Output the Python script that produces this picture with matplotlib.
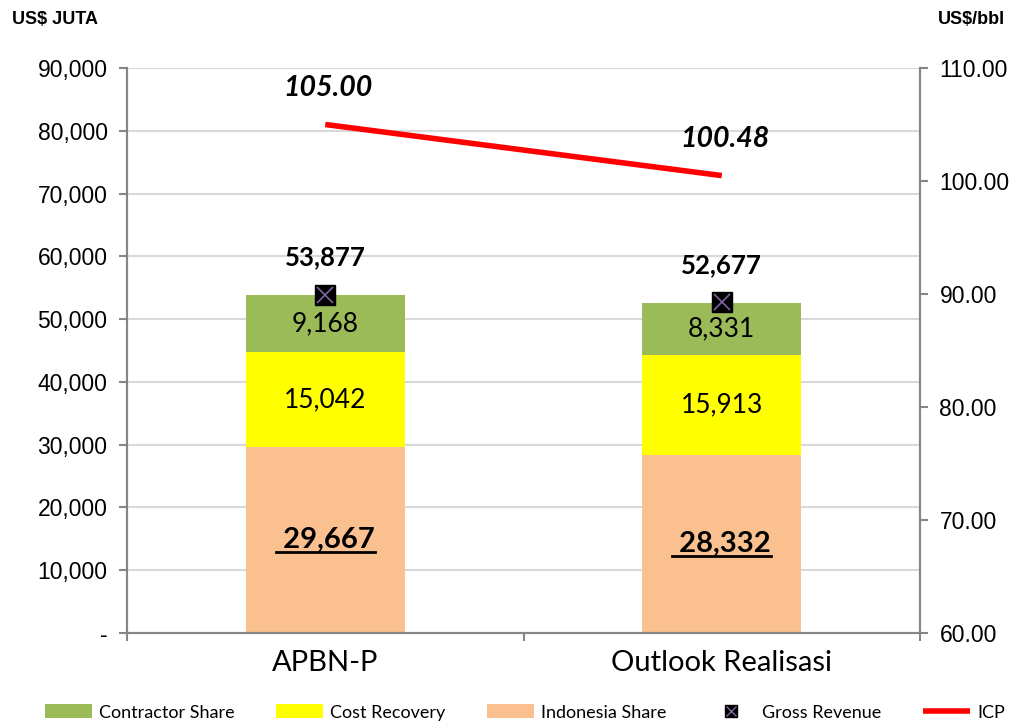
import matplotlib
matplotlib.use('Agg')
import matplotlib.pyplot as plt
from matplotlib.lines import Line2D
from matplotlib.legend_handler import HandlerTuple
import numpy as np

# %% data
categories = ['APBN-P', 'Outlook Realisasi']
indonesia_share = [29667, 28332]
cost_recovery = [15042, 15913]
contractor_share = [9168, 8331]
gross_revenue = [53877, 52677]
icp = [105.00, 100.48]

c_green = '#9BBB59'
c_yellow = '#FFFF00'
c_peach = '#FAC090'
c_red = '#FF0000'
c_spine = '#868686'

plt.rcParams['font.family'] = ['Liberation Sans', 'DejaVu Sans']

fig = plt.figure(figsize=(10.19, 7.21), dpi=100)
ax = fig.add_axes([127 / 1019, 1 - 633 / 721, 793 / 1019, 565 / 721])
ax2 = ax.twinx()

x = np.arange(len(categories))
w = 0.4
b1 = ax.bar(x, indonesia_share, w, color=c_peach, zorder=2, label='Indonesia Share')
b2 = ax.bar(x, cost_recovery, w, bottom=indonesia_share, color=c_yellow, zorder=2, label='Cost Recovery')
bottom3 = np.array(indonesia_share) + np.array(cost_recovery)
b3 = ax.bar(x, contractor_share, w, bottom=bottom3, color=c_green, zorder=2, label='Contractor Share')

m1, = ax.plot(x, gross_revenue, ls='none', marker='s', ms=14, mfc='black', mec='black', zorder=4)
m2, = ax.plot(x, gross_revenue, ls='none', marker='x', ms=12, mew=1.2, color='#8064A2', zorder=5)

ln, = ax2.plot(x, icp, color=c_red, lw=4, solid_capstyle='butt', zorder=3)

# %% axes
ax.set_xlim(-0.5, 1.5)
ax.set_ylim(0, 90000)
ax.set_yticks(np.arange(0, 90001, 10000))
ax.set_yticklabels(['-'] + ['{:,}'.format(v) for v in range(10000, 90001, 10000)])
ax2.set_ylim(60, 110)
ax2.set_yticks(np.arange(60, 111, 10))
ax2.set_yticklabels(['{:.2f}'.format(v) for v in range(60, 111, 10)])

lab_font = ['Lato', 'DejaVu Sans']
ax.set_xticks(x)
ax.set_xticklabels(categories, fontsize=21, family=lab_font)
ax.tick_params(axis='x', length=0, pad=12)
ax.set_xticks([-0.5, 0.5, 1.5], minor=True)
ax.tick_params(axis='x', which='minor', length=6, color=c_spine, width=1.5)
ax.tick_params(axis='y', labelsize=16.5, length=6, color=c_spine, width=1.5, pad=8)
ax2.tick_params(axis='y', labelsize=16.5, length=6, color=c_spine, width=1.5, pad=8)

ax.yaxis.grid(True, color='#D9D9D9', lw=1.5, zorder=0)
ax.set_axisbelow(True)
for a in (ax, ax2):
    a.spines['top'].set_visible(False)
    for s in ('left', 'right', 'bottom'):
        a.spines[s].set_color(c_spine)
        a.spines[s].set_linewidth(1.5)

fig.text(12 / 1019, 1 - 20 / 721, 'US$ JUTA', fontsize=13, fontweight='bold', va='center', ha='left')
fig.text(1005 / 1019, 1 - 20 / 721, 'US$/bbl', fontsize=13, fontweight='bold', va='center', ha='right')

# %% labels
for i in range(len(x)):
    ax.text(x[i], bottom3[i] + contractor_share[i] / 2, '{:,}'.format(contractor_share[i]),
            ha='center', va='center', fontsize=19, family=lab_font, zorder=6)
    ax.text(x[i], indonesia_share[i] + cost_recovery[i] / 2, '{:,}'.format(cost_recovery[i]),
            ha='center', va='center', fontsize=19, family=lab_font, zorder=6)
    ax.annotate('{:,}'.format(gross_revenue[i]), (x[i], gross_revenue[i]), xytext=(0, 27),
                textcoords='offset points', ha='center', va='center', fontsize=18.5,
                fontweight='bold', family=lab_font, zorder=6)
    ax2.annotate('{:.2f}'.format(icp[i]), (x[i], icp[i]), xytext=(2, 26),
                 textcoords='offset points', ha='center', va='center', fontsize=20.5,
                 fontweight='bold', style='italic', family=lab_font, zorder=6)

ind_texts = []
for i in range(len(x)):
    t = ax.text(x[i], indonesia_share[i] / 2, ' {:,}'.format(indonesia_share[i]),
                ha='center', va='center', fontsize=21, fontweight='bold', style='normal',
                family=lab_font, zorder=6)
    ind_texts.append(t)

# underline for indonesia share labels
fig.canvas.draw()
r = fig.canvas.get_renderer()
W = fig.dpi * fig.get_figwidth()
H = fig.dpi * fig.get_figheight()
for t in ind_texts:
    bb = t.get_window_extent(renderer=r)
    yline = bb.y0 + 1
    fig.add_artist(Line2D([bb.x0 / W, bb.x1 / W], [yline / H] * 2, color='black', lw=2))

# %% legend
mk_handle = (Line2D([], [], ls='none', marker='s', ms=8, mfc='black', mec='black'),
             Line2D([], [], ls='none', marker='x', ms=7, mew=1, color='#8064A2'))
fig.legend([b3, b2, b1, mk_handle, ln],
           ['Contractor Share', 'Cost Recovery', 'Indonesia Share', 'Gross Revenue', 'ICP'],
           handler_map={tuple: HandlerTuple(ndivide=1)},
           loc='lower center', bbox_to_anchor=(0.515, -0.022), ncol=5, frameon=False,
           prop={'family': lab_font, 'size': 13}, handlelength=2.6, handleheight=0.8,
           columnspacing=2.3, handletextpad=0.4)

fig.savefig('out.png', dpi=100)
